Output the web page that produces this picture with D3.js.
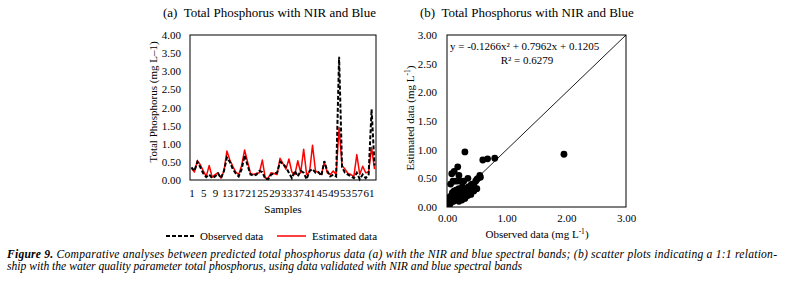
<!DOCTYPE html>
<html><head><meta charset="utf-8">
<script src="https://cdn.jsdelivr.net/npm/d3@7"></script>
<style>
body{margin:0;background:#fff}
svg{display:block}
</style>
</head><body><svg id="c" width="785" height="284"></svg>
<script>
// ---- data ----
const samples = [1,2,3,4,5,6,7,8,9,10,11,12,13,14,15,16,17,18,19,20,21,22,23,24,25,26,27,28,29,30,31,32,33,34,35,36,37,38,39,40,41,42,43,44,45,46,47,48,49,50,51,52,53,54,55,56,57,58,59,60,61,62,63];
const observed = [0.35,0.25,0.50,0.35,0.18,0.08,0.15,0.05,0.10,0.18,0.05,0.25,0.62,0.50,0.30,0.18,0.10,0.30,0.68,0.40,0.15,0.12,0.15,0.25,0.22,0.03,0.02,0.15,0.18,0.20,0.50,0.45,0.35,0.20,0.05,0.25,0.10,0.25,0.20,0.02,0.25,0.30,0.20,0.22,0.12,0.52,0.25,0.10,0.15,0.10,3.40,0.35,0.20,0.15,0.10,0.05,0.20,0.02,0.15,0.05,0.15,1.95,0.40];
const estimated = [0.32,0.22,0.53,0.42,0.25,0.10,0.40,0.08,0.15,0.20,0.05,0.25,0.80,0.55,0.38,0.22,0.15,0.40,0.83,0.50,0.18,0.15,0.18,0.20,0.55,0.05,0.06,0.20,0.18,0.15,0.60,0.45,0.30,0.58,0.22,0.15,0.53,0.20,0.85,0.15,0.22,0.96,0.25,0.20,0.15,0.50,0.20,0.15,0.25,0.15,1.45,0.40,0.30,0.18,0.15,0.10,0.70,0.15,0.38,0.20,0.22,0.90,0.30];
const sampleTickLabels = [1,5,9,13,17,21,25,29,33,37,41,45,49,53,57,61];
const leftYTicks = [0,0.5,1,1.5,2,2.5,3,3.5,4];

const scatterObserved = [0.02,0.03,0.04,0.05,0.05,0.06,0.07,0.08,0.08,0.09,0.10,0.10,0.11,0.12,0.12,0.13,0.14,0.15,0.15,0.16,0.17,0.18,0.19,0.20,0.20,0.22,0.23,0.24,0.25,0.26,0.28,0.30,0.32,0.34,0.36,0.38,0.40,0.42,0.45,0.48,0.50,0.52,0.55,0.56,0.08,0.12,0.18,0.20,0.15,0.10,0.22,0.28,0.35,0.06,0.30,0.60,0.68,0.80,1.96,0.04,0.01,0.35,0.40,0.45,0.50,0.30,0.25,0.20];
const scatterEstimated = [0.08,0.12,0.06,0.10,0.18,0.14,0.08,0.20,0.12,0.25,0.15,0.22,0.10,0.18,0.28,0.22,0.12,0.25,0.18,0.30,0.15,0.22,0.28,0.18,0.32,0.25,0.20,0.30,0.22,0.35,0.28,0.25,0.32,0.30,0.35,0.30,0.38,0.40,0.38,0.45,0.48,0.50,0.55,0.52,0.58,0.62,0.70,0.55,0.45,0.45,0.45,0.45,0.50,0.40,0.96,0.82,0.84,0.85,0.92,0.03,0.05,0.20,0.22,0.28,0.32,0.15,0.12,0.10];
const rightYTicks = [0,0.5,1,1.5,2,2.5,3];
const rightXTicks = [0,1,2,3];
const identityLine = [0,3];

const titleA = "(a)  Total Phosphorus with NIR and Blue";
const titleB = "(b)  Total Phosphorus with NIR and Blue";
const equation = "y = -0.1266x\u00B2 + 0.7962x + 0.1205";
const r2 = "R\u00B2 = 0.6279";
const captionLine1Rest = " Comparative analyses between predicted total phosphorus data (a) with the NIR and blue spectral bands; (b) scatter plots indicating a 1:1 relation-";
const captionLine2 = "ship with the water quality parameter total phosphorus, using data validated with NIR and blue spectral bands";

// ---- drawing ----
const FONT = "'Liberation Serif', 'Times New Roman', Tinos, 'Nimbus Roman', 'DejaVu Serif', serif";
const svg = d3.select("#c").attr("font-family", FONT).style("font-family", FONT);
svg.append("rect").attr("width",785).attr("height",284).attr("fill","#fff");
const fmt = d3.format(".2f");
const styleAxis = g => { g.attr("font-family", FONT); g.select(".domain").remove();
  g.selectAll("text").attr("font-size",11).attr("fill","#000").style("font-family", FONT); };

// ===== Left chart =====
const L = {x0:190, x1:376, y0:35, y1:180};
const xL = d3.scalePoint().domain(samples).range([L.x0, L.x1]).padding(0.5);
const yL = d3.scaleLinear().domain([0,4]).range([L.y1, L.y0]);

svg.append("text").attr("x",163).attr("y",17).attr("font-size",13)
  .style("white-space","pre").text(titleA);

svg.append("g").attr("transform",`translate(${L.x0},0)`)
  .call(d3.axisLeft(yL).tickValues(leftYTicks).tickFormat(fmt).tickSize(0).tickPadding(9)).call(styleAxis);

svg.append("g").attr("transform",`translate(0,${L.y1})`)
  .call(d3.axisBottom(xL).tickValues(sampleTickLabels).tickSize(0).tickPadding(9)).call(styleAxis);

const lineL = (vals) => d3.line().x((d,i)=>xL(samples[i])).y(d=>yL(d))(vals);
svg.append("path").attr("d",lineL(estimated)).attr("fill","none")
  .attr("stroke","#ff0000").attr("stroke-width",1.5).attr("stroke-linejoin","round");
svg.append("path").attr("d",lineL(observed)).attr("fill","none")
  .attr("stroke","#000").attr("stroke-width",2).attr("stroke-dasharray","4,2");

svg.append("rect").attr("x",L.x0).attr("y",L.y0).attr("width",L.x1-L.x0).attr("height",L.y1-L.y0)
  .attr("fill","none").attr("stroke","#000").attr("stroke-width",1);

svg.append("text").attr("transform",`translate(153,102) rotate(-90)`)
  .attr("text-anchor","middle").attr("dy","0.32em").attr("font-size",11)
  .text("Total Phosphorus (mg L\u20131)");
svg.append("text").attr("x",283).attr("y",213).attr("text-anchor","middle").attr("font-size",11).text("Samples");

// legend
const legY = 236;
svg.append("line").attr("x1",166).attr("x2",195).attr("y1",legY).attr("y2",legY)
  .attr("stroke","#000").attr("stroke-width",2).attr("stroke-dasharray","4,2");
svg.append("text").attr("x",200).attr("y",legY).attr("dy","0.32em").attr("font-size",11).text("Observed data");
svg.append("line").attr("x1",277).attr("x2",306).attr("y1",legY).attr("y2",legY)
  .attr("stroke","#ff0000").attr("stroke-width",1.5);
svg.append("text").attr("x",312).attr("y",legY).attr("dy","0.32em").attr("font-size",11).text("Estimated data");

// ===== Right chart =====
const R = {x0:447, x1:626, y0:35, y1:207};
const xR = d3.scaleLinear().domain([0,3]).range([R.x0, R.x1]);
const yR = d3.scaleLinear().domain([0,3]).range([R.y1, R.y0]);

svg.append("text").attr("x",420).attr("y",17).attr("font-size",13)
  .style("white-space","pre").text(titleB);

svg.append("g").attr("transform",`translate(${R.x0},0)`)
  .call(d3.axisLeft(yR).tickValues(rightYTicks).tickFormat(fmt).tickSize(0).tickPadding(10)).call(styleAxis);

svg.append("g").attr("transform",`translate(0,${R.y1})`)
  .call(d3.axisBottom(xR).tickValues(rightXTicks).tickFormat(fmt).tickSize(0).tickPadding(7)).call(styleAxis);

svg.append("clipPath").attr("id","clipR").append("rect")
  .attr("x",R.x0).attr("y",R.y0).attr("width",R.x1-R.x0).attr("height",R.y1-R.y0);

svg.append("line").attr("x1",xR(identityLine[0])).attr("y1",yR(identityLine[0]))
  .attr("x2",xR(identityLine[1])).attr("y2",yR(identityLine[1]))
  .attr("stroke","#000").attr("stroke-width",0.9);

svg.append("g").attr("clip-path","url(#clipR)").selectAll("circle")
  .data(scatterObserved.map((o,i)=>[o,scatterEstimated[i]]))
  .join("circle").attr("cx",d=>xR(d[0])).attr("cy",d=>yR(d[1])).attr("r",3.4).attr("fill","#000");

svg.append("rect").attr("x",R.x0).attr("y",R.y0).attr("width",R.x1-R.x0).attr("height",R.y1-R.y0)
  .attr("fill","none").attr("stroke","#000").attr("stroke-width",1);

svg.append("text").attr("x",450).attr("y",50).attr("font-size",11).text(equation);
svg.append("text").attr("x",527).attr("y",64).attr("text-anchor","middle").attr("font-size",11).text(r2);

const yt = svg.append("text").attr("transform",`translate(410,118) rotate(-90)`)
  .attr("text-anchor","middle").attr("dy","0.32em").attr("font-size",11);
yt.append("tspan").text("Estimated data (mg L");
yt.append("tspan").attr("font-size",7.5).attr("dy",-4).text("-1");
yt.append("tspan").attr("dy",4).text(")");

const xt = svg.append("text").attr("x",537).attr("y",238).attr("text-anchor","middle").attr("font-size",11);
xt.append("tspan").text("Observed data (mg L");
xt.append("tspan").attr("font-size",7.5).attr("dy",-4).text("-1");
xt.append("tspan").attr("dy",4).text(")");

// ===== Caption =====
const cap1 = svg.append("text").attr("x",7).attr("y",258).attr("font-style","italic").attr("font-size",11.6)
  .attr("textLength",770).attr("lengthAdjust","spacing");
cap1.append("tspan").attr("font-weight","bold").text("Figure 9.");
cap1.append("tspan").text(captionLine1Rest);
svg.append("text").attr("x",7).attr("y",270).attr("font-style","italic").attr("font-size",11.6).text(captionLine2);

svg.selectAll("text").style("font-family", FONT).attr("fill","#000");
</script>
</body></html>
